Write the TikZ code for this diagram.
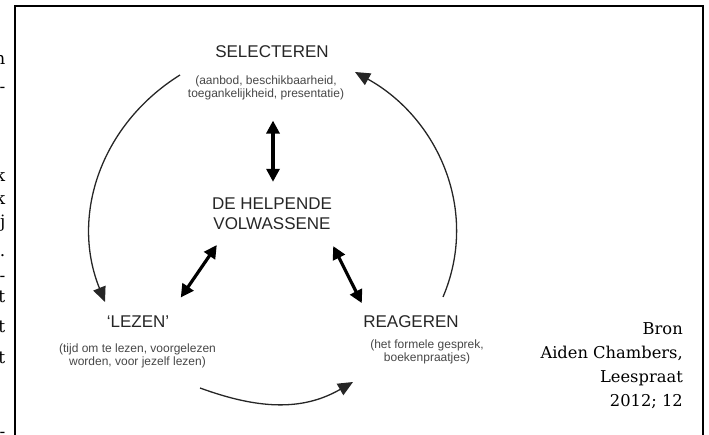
\documentclass[tikz,border=0pt]{standalone}
\usepackage{fontspec}
\setmainfont{Liberation Sans}
\newfontfamily\bronfont{DejaVu Serif}
\usetikzlibrary{arrows.meta,positioning,calc}

\begin{document}
\begin{tikzpicture}[x=1pt, y=1pt,
    every node/.style={inner sep=0pt, text=black!85},
    titel/.style={font=\fontsize{17}{20}\selectfont, align=center},
    uitleg/.style={font=\fontsize{12}{13}\selectfont, align=center, text=black!72},
    rest/.style={font=\bronfont\fontsize{17}{19}\selectfont, anchor=base east, text=black},
    dubbel/.style={{Triangle[length=13pt,width=13pt]}-{Triangle[length=13pt,width=13pt]}, line width=3.2pt},
    boog/.style={-{Triangle[length=15pt,width=13pt]}, line width=1.3pt, black!85},
    >=Stealth]

\useasboundingbox (0,0) rectangle (709,-435);

% Rahmen
\draw[line width=2pt] (15,-440) -- (15,-6) -- (703,-6) -- (703,-440);

% Textreste links
\foreach \t/\y [count=\i] in {n/65, -/93, k/182, k/205, j/228, ./257, -/282, t/303, t/333, t/363, -/437}
  \node[rest] (rest\i) at (5.5,-\y) {\t};

% Knoten
\node[titel, anchor=base] (sel) at (272,-58) {SELECTEREN};
\node[uitleg, anchor=north] (selsub) at (266,-75.5) {(aanbod, beschikbaarheid,\\toegankelijkheid, presentatie)};
\node[titel, anchor=north] (help) at (272,-197.8) {DE HELPENDE\\VOLWASSENE};
\node[titel, anchor=base] (lezen) at (138,-327) {‘LEZEN’};
\node[uitleg, anchor=north] (lezensub) at (137.5,-343.2) {(tijd om te lezen, voorgelezen\\worden, voor jezelf lezen)};
\node[titel, anchor=base] (reag) at (411,-327) {REAGEREN};
\node[uitleg, anchor=north] (reagsub) at (427,-339.2) {(het formele gesprek,\\boekenpraatjes)};

% Bron
\node[anchor=base east, align=right, font=\bronfont\fontsize{16.3}{23.7}\selectfont, text=black] (bron) at (683,-406) {Bron\\Aiden Chambers,\\Leespraat\\2012; 12};

% Pfeile zur Mitte
\draw[dubbel] ($(selsub.south -| help.north)+(1,-20.5)$) -- ($(help.north)+(1,16)$);
\draw[dubbel] ($(help.south west)+(5,-15)$) -- ($(lezen.north east)+(11.4,17.6)$);
\draw[dubbel] ($(help.south east)+(1,-16)$) -- ($(reag.north west)+(-1.3,11.8)$);

% Kreislauf
\coordinate (b1) at (180,-75);
\coordinate (b2) at (105,-302);
\coordinate (b3) at (200,-388);
\coordinate (b4) at (353,-382);
\coordinate (b5) at (443,-297);
\coordinate (b6) at (355,-72);
\draw[boog] (b1) to[out=212, in=112] (b2);
\draw[boog] (b3) to[out=-20, in=210] (b4);
\draw[boog] (b5) to[out=67, in=-29] (b6);

\end{tikzpicture}
\end{document}
